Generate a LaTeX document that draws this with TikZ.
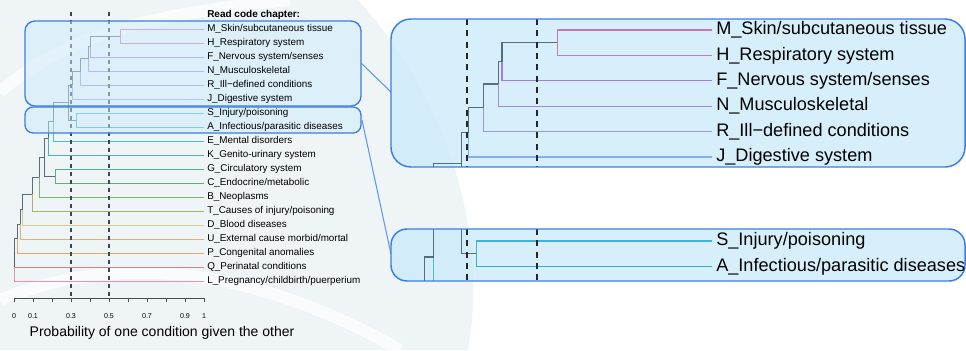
\documentclass[tikz,border=0pt]{standalone}
\usepackage{fontspec}
\setmainfont{Liberation Sans}
\usetikzlibrary{calc}

\definecolor{panelfill}{HTML}{CDEBFA}
\definecolor{panelline}{HTML}{3A7DE8}
\definecolor{branchcol}{HTML}{3E5866}
\definecolor{cutcol}{HTML}{3A4650}
\definecolor{wmark}{HTML}{EFF4F7}
\definecolor{cM}{HTML}{C774B4}
\definecolor{cH}{HTML}{C27AC0}
\definecolor{cF}{HTML}{A57CD8}
\definecolor{cN}{HTML}{A28CE2}
\definecolor{cR}{HTML}{9C94E8}
\definecolor{cJ}{HTML}{80AEEE}
\definecolor{cS}{HTML}{3CB4E2}
\definecolor{cA}{HTML}{30AED8}
\definecolor{cE}{HTML}{45C2D6}
\definecolor{cK}{HTML}{4DB3AE}
\definecolor{cG}{HTML}{55AC90}
\definecolor{cC}{HTML}{66AE82}
\definecolor{cB}{HTML}{7EB472}
\definecolor{cT}{HTML}{A5B562}
\definecolor{cD}{HTML}{D4CC94}
\definecolor{cU}{HTML}{DDB274}
\definecolor{cP}{HTML}{E5A66A}
\definecolor{cQ}{HTML}{D48484}
\definecolor{cL}{HTML}{E496AE}

% tree in (probability, row) units
\newcommand{\dendro}{%
  \foreach \h/\p/\r/\col in {0.558/0.5/0/cM, 0.558/0.5/1/cH, 0.40/1.25/2/cF,
      0.389/2.125/3/cN, 0.347/3.0625/4/cR, 0.305/4.03/5/cJ, 0.326/6.5/6/cS,
      0.326/6.5/7/cA, 0.205/6.63/8/cE, 0.179/7.82/9/cK, 0.216/10.5/10/cG,
      0.216/10.5/11/cC, 0.134/10.58/12/cB, 0.095/11.79/13/cT, 0.042/12.9/14/cD,
      0.032/13.95/15/cU, 0.016/14.97/16/cP, 0.004/15.99/17/cQ, 0/17/18/cL}
    \draw[leaf=\col] (\h,\p) |- (1,\r);
  \foreach \h/\p/\hh/\pp in {0.40/1.25/0.558/0.5, 0.389/2.125/0.40/1.25,
      0.347/3.0625/0.389/2.125, 0.305/4.03/0.347/3.0625, 0.284/5.27/0.305/4.03,
      0.284/5.27/0.326/6.5, 0.205/6.63/0.284/5.27, 0.179/7.82/0.205/6.63,
      0.158/9.16/0.179/7.82, 0.158/9.16/0.216/10.5, 0.134/10.58/0.158/9.16,
      0.095/11.79/0.134/10.58, 0.042/12.9/0.095/11.79, 0.032/13.95/0.042/12.9,
      0.016/14.97/0.032/13.95, 0.004/15.99/0.016/14.97, 0/17/0.004/15.99}
    \draw[branch] (\h,\p) |- (\hh,\pp);
}

\begin{document}
\begin{tikzpicture}[x=0.75pt,y=-0.75pt,
  leaf/.style={color=#1},
  branch/.style={color=branchcol, opacity=0.85},
  cutline/.style={dash pattern=on 3pt off 3pt, line width=0.9pt, color=cutcol},
  bigcut/.style={dash pattern=on 4.5pt off 4pt, line width=1.1pt, color=black!85},
  panel/.style={draw=panelline, line width=1pt, fill=panelfill},
  zoomline/.style={draw=panelline!80, line width=0.8pt},
  leaflab/.style={anchor=west, inner sep=0pt, font=\fontsize{7.4}{8}\selectfont},
  bigleaf/.style={anchor=west, inner sep=0pt, font=\fontsize{13.6}{15}\selectfont},
  ticklab/.style={font=\fontsize{5.3}{6}\selectfont}]
\useasboundingbox (0,0) rectangle (966,350);
\fill[white] (0,0) rectangle (966,350);
\fill[wmark] (0,0) -- (358,0) .. controls (440,90) and (490,220) .. (468,350) -- (0,350) -- cycle;
\draw[white, line width=9pt, opacity=0.7] (0,92) .. controls (70,30) and (170,12) .. (290,0);
\draw[white, line width=9pt, opacity=0.7] (0,300) .. controls (120,250) and (260,270) .. (400,350);

% left dendrogram
\begin{scope}[shift={(14,29)}, xscale=190, yscale=14, line width=0.6pt]
  \dendro
\end{scope}
\draw[cutline] (71,12) -- (71,298);
\draw[cutline] (109,12) -- (109,298);

% axis
\draw[black!70, line width=0.6pt] (14,298) -- (204,298);
\foreach \t in {0,...,10}
  \draw[black!70, line width=0.6pt] (14+19*\t,298) -- ++(0,4);
\foreach \v/\lab in {0/0, 1/0.1, 3/0.3, 5/0.5, 7/0.7, 9/0.9, 10/1}
  \node[ticklab] (tick\v) at (14+19*\v,316) {\lab};
\node[font=\fontsize{10.5}{12}\selectfont] (xtitle) at (162,333) {Probability of one condition given the other};

% highlighted clusters
\draw[panel, fill opacity=0.5, rounded corners=7.5pt] (25,21) rectangle (361,106);
\draw[panel, fill opacity=0.5, rounded corners=6pt] (25,107) rectangle (361,133);

\node[leaflab, font=\fontsize{7.5}{8}\bfseries] (head) at (207,15) {Read code chapter:};
\foreach \r/\n/\lab in {0/M/{M\_Skin/subcutaneous tissue}, 1/H/{H\_Respiratory system},
    2/F/{F\_Nervous system/senses}, 3/N/{N\_Musculoskeletal}, 4/R/{R\_Ill−defined conditions},
    5/J/{J\_Digestive system}, 6/S/{S\_Injury/poisoning}, 7/A/{A\_Infectious/parasitic diseases},
    8/E/{E\_Mental disorders}, 9/K/{K\_Genito-urinary system}, 10/G/{G\_Circulatory system},
    11/C/{C\_Endocrine/metabolic}, 12/B/{B\_Neoplasms}, 13/T/{T\_Causes of injury/poisoning},
    14/D/{D\_Blood diseases}, 15/U/{U\_External cause morbid/mortal},
    16/P/{P\_Congenital anomalies}, 17/Q/{Q\_Perinatal conditions},
    18/L/{L\_Pregnancy/childbirth/puerperium}}
  \node[leaflab] (ch\n) at (207,29+14*\r) {\lab};

% zoom lines
\draw[zoomline] (361,63) -- (391,92);
\draw[zoomline] (362,120) -- (391,254);

% right panel 1
\begin{scope}
  \clip[rounded corners=15pt] (391,19) rectangle (965,167);
  \fill[panelfill, opacity=0.8] (391,19) rectangle (965,167);
  \begin{scope}[shift={(362,30)}, xscale=350, yscale=25.4, line width=0.9pt]
    \dendro
  \end{scope}
  \draw[bigcut] (467,19) -- (467,167);
  \draw[bigcut] (537,19) -- (537,167);
\end{scope}
\draw[panelline, line width=1.1pt, rounded corners=15pt] (391,19) rectangle (965,167);

% right panel 2
\begin{scope}
  \clip[rounded corners=12pt] (391,229) rectangle (965,281);
  \fill[panelfill, opacity=0.8] (391,229) rectangle (965,281);
  \begin{scope}[shift={(362,88.6)}, xscale=350, yscale=25.4, line width=0.9pt]
    \dendro
  \end{scope}
  \draw[bigcut] (467,229) -- (467,281);
  \draw[bigcut] (537,229) -- (537,281);
\end{scope}
\draw[panelline, line width=1.1pt, rounded corners=12pt] (391,229) rectangle (965,281);

\foreach \r/\n/\lab in {0/M/{M\_Skin/subcutaneous tissue}, 1/H/{H\_Respiratory system},
    2/F/{F\_Nervous system/senses}, 3/N/{N\_Musculoskeletal}, 4/R/{R\_Ill−defined conditions},
    5/J/{J\_Digestive system}}
  \node[bigleaf] (zoom\n) at (716,30+25.4*\r) {\lab};
\node[bigleaf] (zoomS) at (716,241) {S\_Injury/poisoning};
\node[bigleaf] (zoomA) at (716,266.4) {A\_Infectious/parasitic diseases};
\end{tikzpicture}
\end{document}
